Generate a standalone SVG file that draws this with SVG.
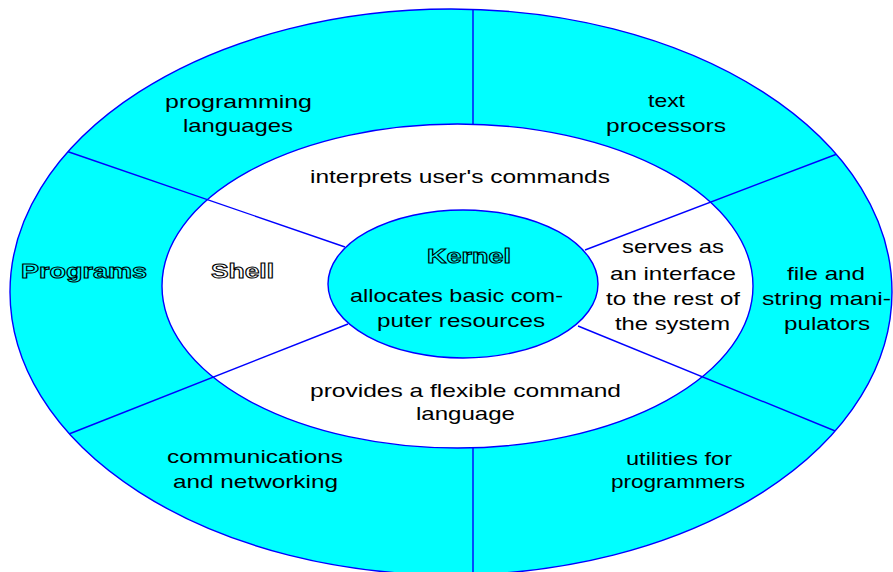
<svg xmlns="http://www.w3.org/2000/svg" width="893" height="572" viewBox="0 0 893 572">
  <style>
    .ring { fill: #00ffff; stroke: #0000ff; stroke-width: 1.4; }
    .shell { fill: #ffffff; stroke: #0000ff; stroke-width: 1.4; }
    .divider { stroke: #0000ff; stroke-width: 1.4; fill: none; }
    .lbl { font-family: "Liberation Sans", Arial, sans-serif; font-size: 19px; fill: #000000; }
    .title { font-family: "Liberation Sans", Arial, sans-serif; font-size: 21px; font-weight: bold; stroke: #000000; stroke-width: 1; }
  </style>
  <defs>
    <!-- keep the sector dividers inside the outer ring -->
    <clipPath id="outerClip">
      <ellipse cx="451" cy="292" rx="441" ry="283"/>
    </clipPath>
  </defs>

  <!-- outer ring: programs -->
  <g id="programs">
    <ellipse class="ring" cx="451" cy="292" rx="441" ry="283"/>
    <text class="title" x="21" y="278" fill="#00ffff" textLength="126" lengthAdjust="spacingAndGlyphs">Programs</text>
  </g>

  <!-- middle ring: shell -->
  <g id="shell">
    <ellipse class="shell" cx="457.5" cy="286" rx="295.5" ry="162"/>
    <text class="title" x="211" y="278" fill="#ffffff" textLength="63" lengthAdjust="spacingAndGlyphs">Shell</text>
  </g>

  <!-- core: kernel -->
  <g id="kernel">
    <ellipse class="ring" cx="463" cy="284" rx="135" ry="74"/>
    <text class="title" x="427" y="263" fill="#00ffff" textLength="84" lengthAdjust="spacingAndGlyphs">Kernel</text>
    <text class="lbl" x="350" y="302" textLength="213" lengthAdjust="spacingAndGlyphs">allocates basic com-</text>
    <text class="lbl" x="377" y="327" textLength="168" lengthAdjust="spacingAndGlyphs">puter resources</text>
  </g>

  <!-- sector dividers -->
  <g id="connectors" clip-path="url(#outerClip)">
    <line class="divider" x1="473" y1="9" x2="473" y2="124"/>
    <line class="divider" x1="473" y1="448" x2="473" y2="572"/>
    <line class="divider" x1="66" y1="151" x2="345" y2="247"/>
    <line class="divider" x1="69" y1="434" x2="348" y2="324"/>
    <line class="divider" x1="845" y1="151" x2="585" y2="250"/>
    <line class="divider" x1="845" y1="435" x2="578" y2="326"/>
  </g>

  <!-- program sectors -->
  <g id="programming-languages">
    <text class="lbl" x="165" y="108" textLength="147" lengthAdjust="spacingAndGlyphs">programming</text>
    <text class="lbl" x="183" y="132" textLength="110" lengthAdjust="spacingAndGlyphs">languages</text>
  </g>
  <g id="text-processors">
    <text class="lbl" x="648" y="107" textLength="37" lengthAdjust="spacingAndGlyphs">text</text>
    <text class="lbl" x="606" y="132" textLength="120" lengthAdjust="spacingAndGlyphs">processors</text>
  </g>
  <g id="file-string">
    <text class="lbl" x="787" y="280" textLength="78" lengthAdjust="spacingAndGlyphs">file and</text>
    <text class="lbl" x="762" y="305" textLength="129" lengthAdjust="spacingAndGlyphs">string mani-</text>
    <text class="lbl" x="784" y="330" textLength="86" lengthAdjust="spacingAndGlyphs">pulators</text>
  </g>
  <g id="utilities">
    <text class="lbl" x="626" y="465" textLength="106" lengthAdjust="spacingAndGlyphs">utilities for</text>
    <text class="lbl" x="611" y="488" textLength="134" lengthAdjust="spacingAndGlyphs">programmers</text>
  </g>
  <g id="communications">
    <text class="lbl" x="167" y="463" textLength="176" lengthAdjust="spacingAndGlyphs">communications</text>
    <text class="lbl" x="173" y="488" textLength="165" lengthAdjust="spacingAndGlyphs">and networking</text>
  </g>

  <!-- shell sectors -->
  <g id="interprets">
    <text class="lbl" x="310" y="183" textLength="300" lengthAdjust="spacingAndGlyphs">interprets user's commands</text>
  </g>
  <g id="interface">
    <text class="lbl" x="622" y="253" textLength="102" lengthAdjust="spacingAndGlyphs">serves as</text>
    <text class="lbl" x="610" y="280" textLength="126" lengthAdjust="spacingAndGlyphs">an interface</text>
    <text class="lbl" x="606" y="305" textLength="134" lengthAdjust="spacingAndGlyphs">to the rest of</text>
    <text class="lbl" x="615" y="330" textLength="115" lengthAdjust="spacingAndGlyphs">the system</text>
  </g>
  <g id="command-language">
    <text class="lbl" x="310" y="397" textLength="311" lengthAdjust="spacingAndGlyphs">provides a flexible command</text>
    <text class="lbl" x="416" y="420" textLength="99" lengthAdjust="spacingAndGlyphs">language</text>
  </g>
</svg>
